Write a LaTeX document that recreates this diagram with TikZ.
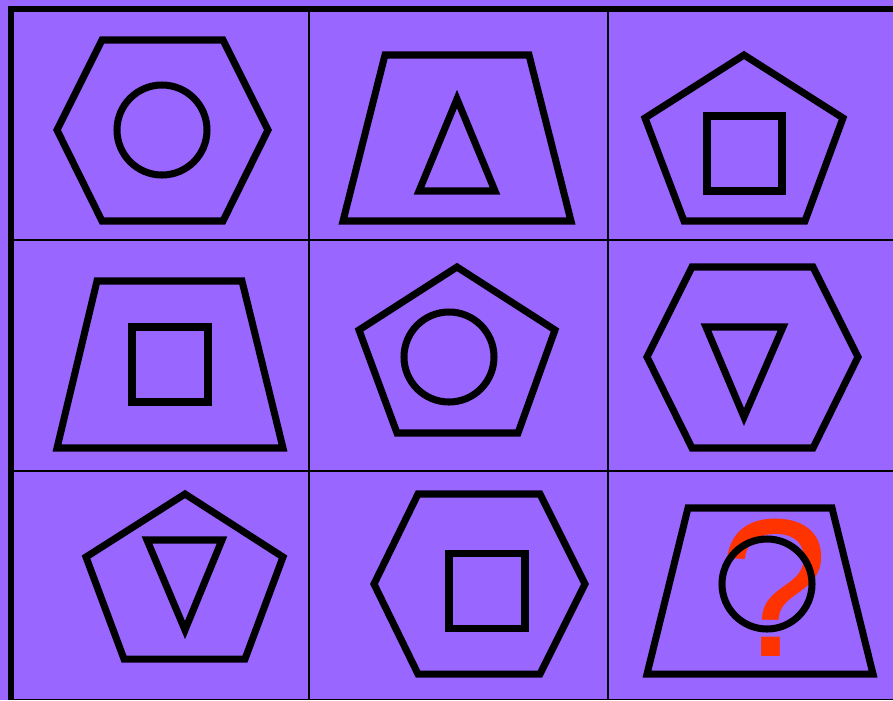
\documentclass[tikz,border=0pt]{standalone}
\usepackage{fontspec}
\newfontfamily\qfont{Liberation Sans}
\usepackage{xcolor}
\usepackage{tikz}
\definecolor{cellbg}{RGB}{153,102,255}
\definecolor{qred}{RGB}{255,51,0}

\begin{document}
\begin{tikzpicture}[
  x=0.025cm, y=-0.025cm,
  grid/.style={line width=1.8pt},
  frame/.style={line width=4.3pt},
  outer/.style={draw, line width=5pt},
  inner/.style={draw, line width=5pt},
  qmark/.style={text=qred, inner sep=0pt, anchor=base, font=\qfont\fontsize{140}{140}\selectfont}]
  \useasboundingbox (0,0) rectangle (893,700);
  \fill[cellbg] (0,0) rectangle (893,700);
  % --- grid ---
  \draw[grid] (309,9) -- (309,700);
  \draw[grid] (608,9) -- (608,700);
  \draw[grid] (11,240) -- (893,240);
  \draw[grid] (11,471) -- (893,471);
  \draw[line width=0.8pt] (11,699.5) -- (893,699.5);
  \draw[frame] (11,700) -- (11,9) -- (893,9);
  % --- row 1 ---
  \draw[outer] (102,40) -- (223,40) -- (268,130) -- (223,221) -- (102,221) -- (57,130) -- cycle;
  \draw[inner] (162,130) circle (45);
  \draw[outer] (385,55) -- (529,55) -- (571,221) -- (343,221) -- cycle;
  \draw[inner] (457,99) -- (495,191) -- (419,191) -- cycle;
  \draw[outer] (744,55) -- (843,118) -- (805,221) -- (684,221) -- (645,118) -- cycle;
  \draw[inner] (707,116) rectangle (782,191);
  % --- row 2 ---
  \draw[outer] (97,281) -- (242,281) -- (283,448) -- (57,448) -- cycle;
  \draw[inner] (132,327) rectangle (208,402);
  \draw[outer] (457,267) -- (555,330) -- (518,433) -- (397,433) -- (359,330) -- cycle;
  \draw[inner] (449,357) circle (45);
  \draw[outer] (692,267) -- (813,267) -- (858,357) -- (813,448) -- (692,448) -- (647,357) -- cycle;
  \draw[inner] (706,327) -- (783,327) -- (744,417) -- cycle;
  % --- row 3 ---
  \draw[outer] (185,494) -- (283,557) -- (245,659) -- (124,659) -- (86,557) -- cycle;
  \draw[inner] (147,540) -- (222,540) -- (185,630) -- cycle;
  \draw[outer] (418,494) -- (540,494) -- (585,584) -- (540,674) -- (418,674) -- (374,584) -- cycle;
  \draw[inner] (449,553) rectangle (525,628);
  \draw[outer] (688,508) -- (832,508) -- (873,674) -- (647,674) -- cycle;
  \node[qmark] (ask) at (774,656) {?};
  \draw[inner] (767,584) circle (45);
\end{tikzpicture}
\end{document}
